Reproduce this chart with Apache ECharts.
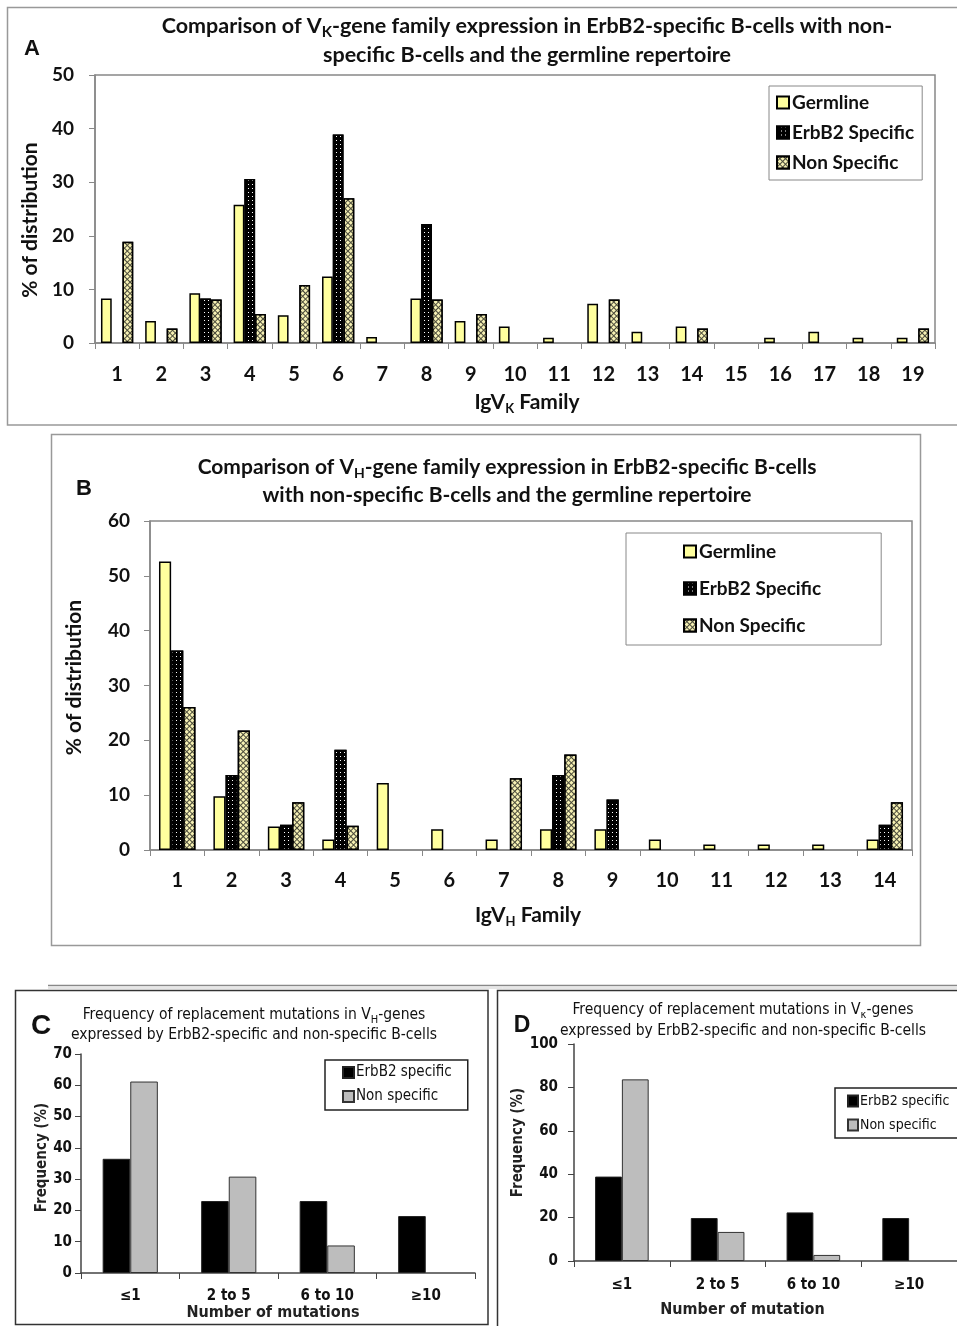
<!DOCTYPE html>
<html>
<head>
<meta charset="utf-8">
<script src="https://cdn.jsdelivr.net/npm/echarts@6/dist/echarts.min.js"></script>
<style>
  html, body { margin: 0; padding: 0; background: #fff; }
  #main { width: 957px; height: 1326px; }
</style>
</head>
<body>
<div id="main"></div>
<script>
// A: V-kappa families
const kappaFamilies = ['1','2','3','4','5','6','7','8','9','10','11','12','13','14','15','16','17','18','19'];
const kappaGermline = [8.3, 4.1, 9.3, 25.8, 5.2, 12.4, 1.1, 8.3, 4.1, 3.1, 1.0, 7.3, 2.1, 3.1, null, 1.0, 2.1, 1.0, 1.0];
const kappaErbB2 = [null, null, 8.3, 30.6, null, 38.9, null, 22.2, null, null, null, null, null, null, null, null, null, null, null];
const kappaNonSpecific = [18.9, 2.7, 8.1, 5.4, 10.8, 27.0, null, 8.1, 5.4, null, null, 8.1, null, 2.7, null, null, null, null, 2.7];

// B: V-heavy families
const heavyFamilies = ['1','2','3','4','5','6','7','8','9','10','11','12','13','14'];
const heavyGermline = [52.6, 9.8, 4.3, 1.9, 12.2, 3.8, 1.9, 3.8, 3.8, 1.9, 1.0, 1.0, 1.0, 1.9];
const heavyErbB2 = [36.4, 13.7, 4.6, 18.3, null, null, null, 13.7, 9.2, null, null, null, null, 4.6];
const heavyNonSpecific = [26.1, 21.8, 8.7, 4.4, null, null, 13.1, 17.4, null, null, null, null, null, 8.7];

// C / D: replacement mutations
const mutationBins = ['≤1', '2 to 5', '6 to 10', '≥10'];
const vhErbB2 = [36.5, 23.0, 23.0, 18.2];
const vhNonSpecific = [61.2, 30.8, 8.8, null];
const vkErbB2 = [38.9, 19.8, 22.4, 19.8];
const vkNonSpecific = [83.7, 13.4, 2.8, null];

const F = 'Lato, "Open Sans", sans-serif';
const N = '"Liberation Sans Narrow", "DejaVu Sans Condensed", Lato, sans-serif';

const germStyle = { color: '#ffff9e', borderColor: '#000', borderWidth: 1.5 };
const erbStyle = {
  color: '#000', borderColor: '#000', borderWidth: 1.5,
  decal: { symbol: 'rect', symbolSize: 1, color: '#fff', dashArrayX: [1, 3], dashArrayY: [1, 3] }
};
const nonStyle = {
  color: '#4a4a3a', borderColor: '#000', borderWidth: 1.5,
  decal: { symbol: 'rect', symbolSize: 1, color: '#f6f1b4', dashArrayX: [2.5, 1], dashArrayY: [2.5, 1], rotation: Math.PI / 4 }
};

function bigRich(size) {
  return {
    b: { fontFamily: F, fontWeight: 'bold', fontSize: size, lineHeight: 26, verticalAlign: 'middle', color: '#111' },
    s: { fontFamily: F, fontWeight: 'bold', fontSize: Math.round(size * 0.62), lineHeight: 13, verticalAlign: 'bottom', color: '#111' }
  };
}
function gRich(size, fam, weight) {
  const sub = Math.round(size * 0.68);
  return {
    b: { font: weight + ' ' + size + 'px ' + fam, lineHeight: size + 6, verticalAlign: 'middle', fill: '#111' },
    s: { font: weight + ' ' + sub + 'px ' + fam, lineHeight: sub, verticalAlign: 'bottom', fill: '#111' }
  };
}
function gText(x, y, text, rich) {
  return { type: 'text', x: x, y: y, style: { text: text, rich: rich, align: 'center', verticalAlign: 'middle' } };
}

function catAxis(gridIndex, data, o) {
  return {
    type: 'category', gridIndex: gridIndex, data: data,
    axisLine: { lineStyle: { color: o.line, width: 1.5 } },
    axisTick: { show: true, length: 6, lineStyle: { color: o.line } },
    axisLabel: { margin: o.margin, fontFamily: o.font, fontWeight: 'bold', fontSize: o.size, color: '#111' },
    name: o.name, nameLocation: 'middle', nameGap: o.nameGap,
    nameTextStyle: o.nameStyle
  };
}
function valAxis(gridIndex, max, interval, o) {
  return {
    type: 'value', gridIndex: gridIndex, min: 0, max: max, interval: interval,
    splitLine: { show: false },
    axisLine: { show: true, lineStyle: { color: o.line, width: 1.5 } },
    axisTick: { show: true, length: 6, lineStyle: { color: o.line } },
    axisLabel: { margin: o.margin, fontFamily: o.font, fontWeight: 'bold', fontSize: o.size, color: '#111' },
    name: o.name, nameLocation: 'middle', nameGap: o.nameGap,
    nameTextStyle: o.nameStyle
  };
}
function bars(name, data, style, xi, gap) {
  return {
    type: 'bar', name: name, data: data, xAxisIndex: xi, yAxisIndex: xi,
    itemStyle: style, barGap: '0%', barCategoryGap: gap, silent: true
  };
}

const chart = echarts.init(document.getElementById('main'));
chart.setOption({
  backgroundColor: '#fff',
  animation: false,
  grid: [
    { left: 95, top: 75, width: 840, height: 268, show: true, borderColor: '#888', borderWidth: 1.5 },
    { left: 150, top: 521, width: 762, height: 329, show: true, borderColor: '#888', borderWidth: 1.5 },
    { left: 81, top: 1054, width: 394, height: 219 },
    { left: 574, top: 1044, width: 391, height: 217 }
  ],
  xAxis: [
    catAxis(0, kappaFamilies, { line: '#888', margin: 22, font: F, size: 20, name: '{b|IgV}{s|K}{b| Family}', nameGap: 46,
      nameStyle: { padding: [0, 0, 0, 24], rich: bigRich(21) } }),
    catAxis(1, heavyFamilies, { line: '#888', margin: 21, font: F, size: 20, name: '{b|IgV}{s|H}{b| Family}', nameGap: 52,
      nameStyle: { padding: [0, 6, 0, 0], rich: bigRich(21) } }),
    catAxis(2, mutationBins, { line: '#444', margin: 16, font: N, size: 15, name: 'Number of mutations', nameGap: 26,
      nameStyle: { fontFamily: N, fontWeight: 'bold', fontSize: 16, color: '#222', padding: [0, 10, 0, 0] } }),
    catAxis(3, mutationBins, { line: '#444', margin: 17, font: N, size: 15, name: 'Number of mutation', nameGap: 41,
      nameStyle: { fontFamily: N, fontWeight: 'bold', fontSize: 16, color: '#222', padding: [0, 46, 0, 0] } })
  ],
  yAxis: [
    valAxis(0, 50, 10, { line: '#888', margin: 21, font: F, size: 19, name: '% of distribution', nameGap: 52,
      nameStyle: { fontFamily: F, fontWeight: 'bold', fontSize: 21, color: '#111', padding: [0, 22, 0, 0] } }),
    valAxis(1, 60, 10, { line: '#888', margin: 20, font: F, size: 19, name: '% of distribution', nameGap: 65,
      nameStyle: { fontFamily: F, fontWeight: 'bold', fontSize: 21, color: '#111', padding: [0, 0, 0, 16] } }),
    valAxis(2, 70, 10, { line: '#444', margin: 9, font: N, size: 15, name: 'Frequency (%)', nameGap: 29,
      nameStyle: { fontFamily: N, fontWeight: 'bold', fontSize: 15, color: '#222', padding: [0, 0, 0, 12] } }),
    valAxis(3, 100, 20, { line: '#444', margin: 16, font: N, size: 15, name: 'Frequency (%)', nameGap: 46,
      nameStyle: { fontFamily: N, fontWeight: 'bold', fontSize: 15, color: '#222', padding: [0, 0, 0, 20] } })
  ],
  legend: [
    { data: ['Germline', 'ErbB2 Specific', 'Non Specific'], orient: 'vertical', left: 769, top: 86, icon: 'rect',
      borderColor: '#888', borderWidth: 1, padding: [7, 8, 8, 7], itemGap: 11, itemWidth: 12, itemHeight: 12,
      selectedMode: false, textStyle: { fontFamily: F, fontWeight: 'bold', fontSize: 19, color: '#111', padding: [0, 0, 0, -2] } },
    { data: ['Germline', 'ErbB2 Specific', 'Non Specific'], orient: 'vertical', left: 626, top: 533, icon: 'rect',
      borderColor: '#888', borderWidth: 1, padding: [9, 60, 10, 57], itemGap: 18, itemWidth: 12, itemHeight: 12,
      selectedMode: false, textStyle: { fontFamily: F, fontWeight: 'bold', fontSize: 19, color: '#111', padding: [0, 0, 0, -2] } },
    { data: ['ErbB2 specific', 'Non specific'], orient: 'vertical', left: 325, top: 1060, icon: 'rect',
      borderColor: '#222', borderWidth: 1.5, padding: [5, 16, 6, 17], itemGap: 9, itemWidth: 11, itemHeight: 11,
      selectedMode: false, textStyle: { fontFamily: N, fontSize: 15, color: '#111', padding: [0, 0, 0, -3] } },
    { data: ['ErbB2 specific', 'Non specific'], orient: 'vertical', left: 835, top: 1088, icon: 'rect',
      borderColor: '#222', borderWidth: 1.5, padding: [6, 20, 6, 12], itemGap: 10, itemWidth: 10, itemHeight: 11,
      selectedMode: false, textStyle: { fontFamily: N, fontSize: 14, color: '#111', padding: [0, 0, 0, -3] } }
  ],
  series: [
    bars('Germline', kappaGermline, germStyle, 0, '27%'),
    bars('ErbB2 Specific', kappaErbB2, erbStyle, 0, '27%'),
    bars('Non Specific', kappaNonSpecific, nonStyle, 0, '27%'),
    bars('Germline', heavyGermline, germStyle, 1, '33%'),
    bars('ErbB2 Specific', heavyErbB2, erbStyle, 1, '33%'),
    bars('Non Specific', heavyNonSpecific, nonStyle, 1, '33%'),
    bars('ErbB2 specific', vhErbB2, { color: '#000', borderColor: '#222', borderWidth: 1 }, 2, '44%'),
    bars('Non specific', vhNonSpecific, { color: '#bdbdbd', borderColor: '#333', borderWidth: 1 }, 2, '44%'),
    bars('ErbB2 specific', vkErbB2, { color: '#000', borderColor: '#222', borderWidth: 1 }, 3, '44%'),
    bars('Non specific', vkNonSpecific, { color: '#bdbdbd', borderColor: '#333', borderWidth: 1 }, 3, '44%')
  ],
  graphic: [
    // panel frames and separator
    { type: 'rect', shape: { x: 7.5, y: 7.5, width: 960, height: 417.5 }, style: { fill: null, stroke: '#999', lineWidth: 1.5 } },
    { type: 'rect', shape: { x: 51.5, y: 434.5, width: 869, height: 511 }, style: { fill: null, stroke: '#999', lineWidth: 1.5 } },
    { type: 'line', shape: { x1: 48, y1: 985.5, x2: 957, y2: 985.5 }, style: { stroke: '#888', lineWidth: 1.5 } },
    { type: 'line', shape: { x1: 48, y1: 988, x2: 957, y2: 988 }, style: { stroke: '#ccc', lineWidth: 1 } },
    { type: 'rect', shape: { x: 15.5, y: 990.5, width: 472.5, height: 334 }, style: { fill: null, stroke: '#333', lineWidth: 1.5 } },
    { type: 'rect', shape: { x: 497.5, y: 990.5, width: 470, height: 340 }, style: { fill: null, stroke: '#333', lineWidth: 1.5 } },
    // panel letters
    { type: 'text', x: 32, y: 49, style: { text: 'A', font: 'bold 22px "Liberation Sans", Arial, sans-serif', fill: '#111', align: 'center', verticalAlign: 'middle' } },
    { type: 'text', x: 84, y: 489, style: { text: 'B', font: 'bold 22px "Liberation Sans", Arial, sans-serif', fill: '#111', align: 'center', verticalAlign: 'middle' } },
    { type: 'text', x: 41, y: 1026, style: { text: 'C', font: 'bold 28px "Liberation Sans", Arial, sans-serif', fill: '#111', align: 'center', verticalAlign: 'middle' } },
    { type: 'text', x: 522, y: 1026, style: { text: 'D', font: 'bold 23px "Liberation Sans", Arial, sans-serif', fill: '#111', align: 'center', verticalAlign: 'middle' } },
    // titles
    gText(527, 26, '{b|Comparison of V}{s|K}{b|-gene family expression in ErbB2-specific B-cells with non-}', gRich(21.5, F, 'bold')),
    gText(527, 55, '{b|specific B-cells and the germline repertoire}', gRich(21.5, F, 'bold')),
    gText(507, 467, '{b|Comparison of V}{s|H}{b|-gene family expression in ErbB2-specific B-cells}', gRich(21, F, 'bold')),
    gText(507, 495, '{b|with non-specific B-cells and the germline repertoire}', gRich(21, F, 'bold')),
    gText(254, 1015, '{b|Frequency of replacement mutations in V}{s|H}{b|-genes}', gRich(15.5, N, 'normal')),
    gText(254, 1035, '{b|expressed by ErbB2-specific and non-specific B-cells}', gRich(15.5, N, 'normal')),
    gText(743, 1010, '{b|Frequency of replacement mutations in V}{s|κ}{b|-genes}', gRich(15.5, N, 'normal')),
    gText(743, 1031, '{b|expressed by ErbB2-specific and non-specific B-cells}', gRich(15.5, N, 'normal'))
  ]
});
</script>
</body>
</html>
